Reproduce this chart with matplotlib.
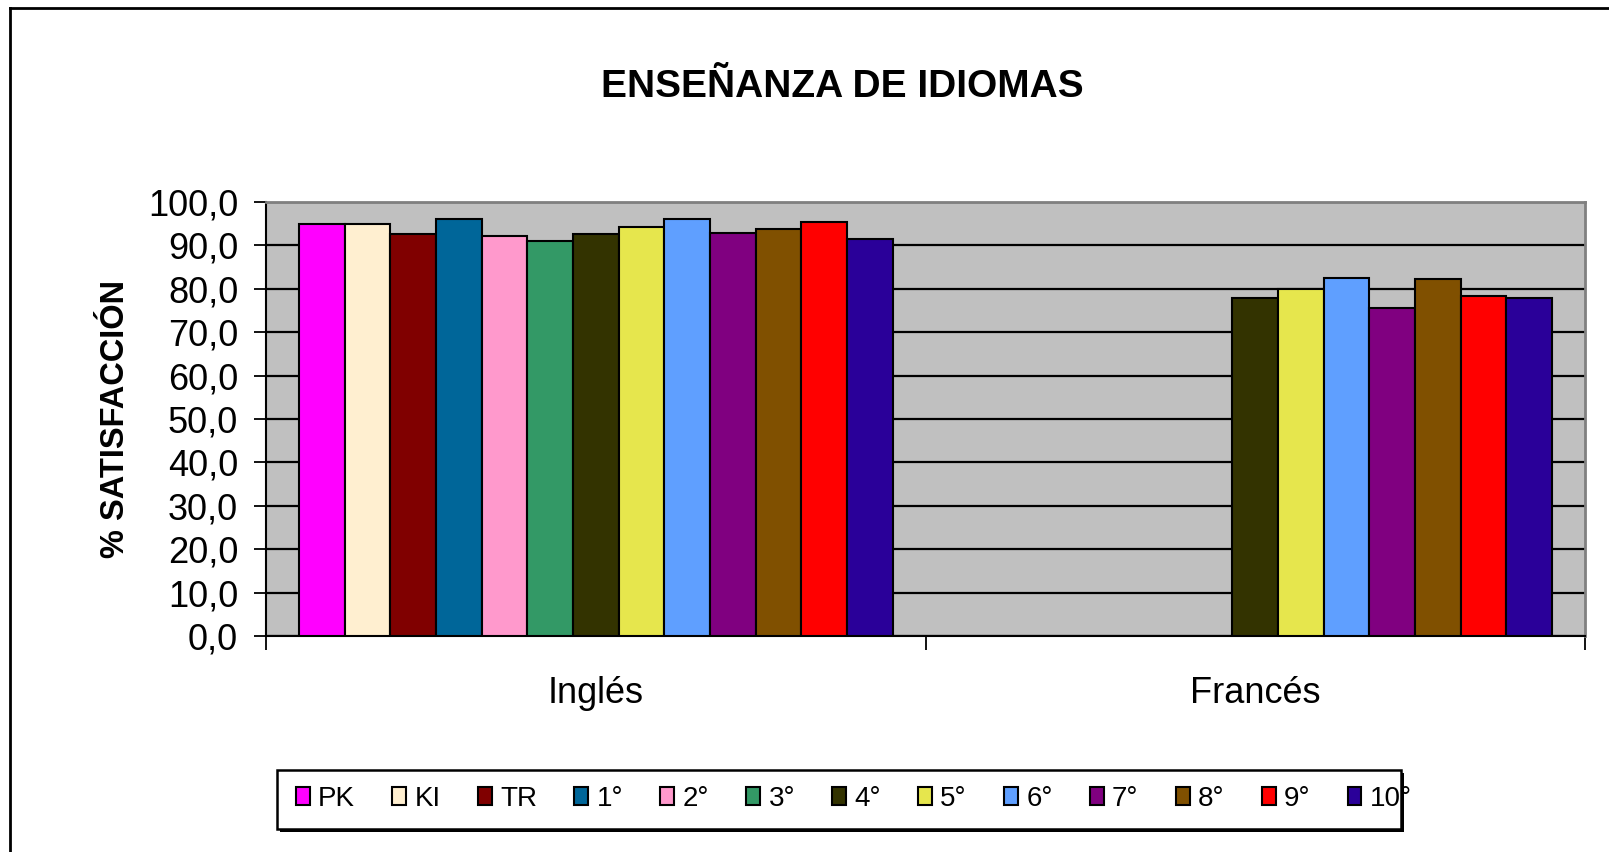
import numpy as np
import matplotlib
matplotlib.use("Agg")
import matplotlib.pyplot as plt
from matplotlib.patches import Rectangle
from matplotlib.lines import Line2D

plt.rcParams['font.family'] = ['Liberation Sans', 'DejaVu Sans']

# datos
categorias = ['Inglés', 'Francés']
series = ['PK', 'KI', 'TR', '1°', '2°', '3°', '4°', '5°', '6°', '7°', '8°', '9°', '10°']
ingles = [95.0, 95.0, 92.7, 96.0, 92.1, 91.0, 92.7, 94.2, 96.0, 92.8, 93.7, 95.5, 91.4]
frances = [None, None, None, None, None, None, 77.9, 79.9, 82.5, 75.6, 82.3, 78.3, 77.9]
colores = ['#FF00FF', '#FFEFD0', '#800000', '#006699', '#FF99CC', '#339966', '#333300',
           '#E6E64D', '#5F9FFF', '#800080', '#805000', '#FF0000', '#2A0099']
yticks = [0, 10, 20, 30, 40, 50, 60, 70, 80, 90, 100]
ytick_labels = ['0,0', '10,0', '20,0', '30,0', '40,0', '50,0', '60,0', '70,0', '80,0', '90,0', '100,0']

W, H = 1609, 852
fig = plt.figure(figsize=(W / 100, H / 100), dpi=100)
ax = fig.add_axes([266 / W, 1 - 636 / H, (1585 - 266) / W, (636 - 202) / H])
ax.set_facecolor('#C0C0C0')

n = len(series)
ancho = 0.9 / n
x = np.arange(len(categorias))
for i, s in enumerate(series):
    vals = np.array([ingles[i], frances[i]], dtype=float)
    ax.bar(x - 0.45 + ancho * (i + 0.5), vals, width=ancho, color=colores[i],
           edgecolor='black', linewidth=1.5, label=s, zorder=3)

ax.set_ylim(0, 100)
ax.set_xlim(-0.5, 1.5)
ax.set_yticks(yticks)
ax.set_yticklabels(ytick_labels, fontsize=26)
ax.yaxis.grid(True, color='black', linewidth=1.6, zorder=0)
ax.set_axisbelow(True)
ax.tick_params(axis='y', direction='out', length=9, width=1.3, pad=11)

ax.set_xticks([-0.5, 0.5, 1.5])
ax.set_xticklabels([])
ax.tick_params(axis='x', which='major', direction='out', length=10, width=1.3)
ax.set_xticks(x, minor=True)
ax.set_xticklabels(categorias, minor=True, fontsize=26)
ax.tick_params(axis='x', which='minor', length=0, pad=29)

for side in ['left', 'bottom']:
    ax.spines[side].set_color('black')
    ax.spines[side].set_linewidth(1.5)
for side in ['top', 'right']:
    ax.spines[side].set_color('#808080')
    ax.spines[side].set_linewidth(2)

ax.set_ylabel('% SATISFACCIÓN', fontsize=23.5, fontweight='bold', labelpad=12)

fig.text(842 / W, 1 - 87 / H, 'ENSEÑANZA DE IDIOMAS', fontsize=28, fontweight='bold',
         ha='center', va='center')

# leyenda (caja dibujada aparte, el texto "10°" se sale como en el original)
caja = dict(x0=277, x1=1401, y0=770, y1=829)
fig.add_artist(Rectangle(((caja['x0'] + 3) / W, 1 - (caja['y1'] + 3) / H),
                         (caja['x1'] - caja['x0']) / W, (caja['y1'] - caja['y0']) / H,
                         transform=fig.transFigure, facecolor='black', edgecolor='none', zorder=4))
fig.add_artist(Rectangle((caja['x0'] / W, 1 - caja['y1'] / H),
                         (caja['x1'] - caja['x0']) / W, (caja['y1'] - caja['y0']) / H,
                         transform=fig.transFigure, facecolor='white', edgecolor='black',
                         linewidth=1.8, zorder=5))
handles = [Rectangle((0, 0), 1, 1, facecolor=c, edgecolor='black', linewidth=1.5) for c in colores]
leg = fig.legend(handles, series, loc='center left', bbox_to_anchor=(296 / W, 1 - 799 / H),
                 ncol=n, fontsize=20, frameon=False, borderpad=0, borderaxespad=0,
                 handlelength=0.5, handleheight=0.6, handletextpad=0.3,
                 columnspacing=1.34)
leg.set_zorder(6)

# borde del área del gráfico
fig.add_artist(Line2D([10 / W, 10 / W], [0, 1 - 8 / H], color='black', linewidth=2,
                      transform=fig.transFigure))
fig.add_artist(Line2D([10 / W, 1], [1 - 8 / H, 1 - 8 / H], color='black', linewidth=2,
                      transform=fig.transFigure))

fig.savefig('out.png', dpi=100)
